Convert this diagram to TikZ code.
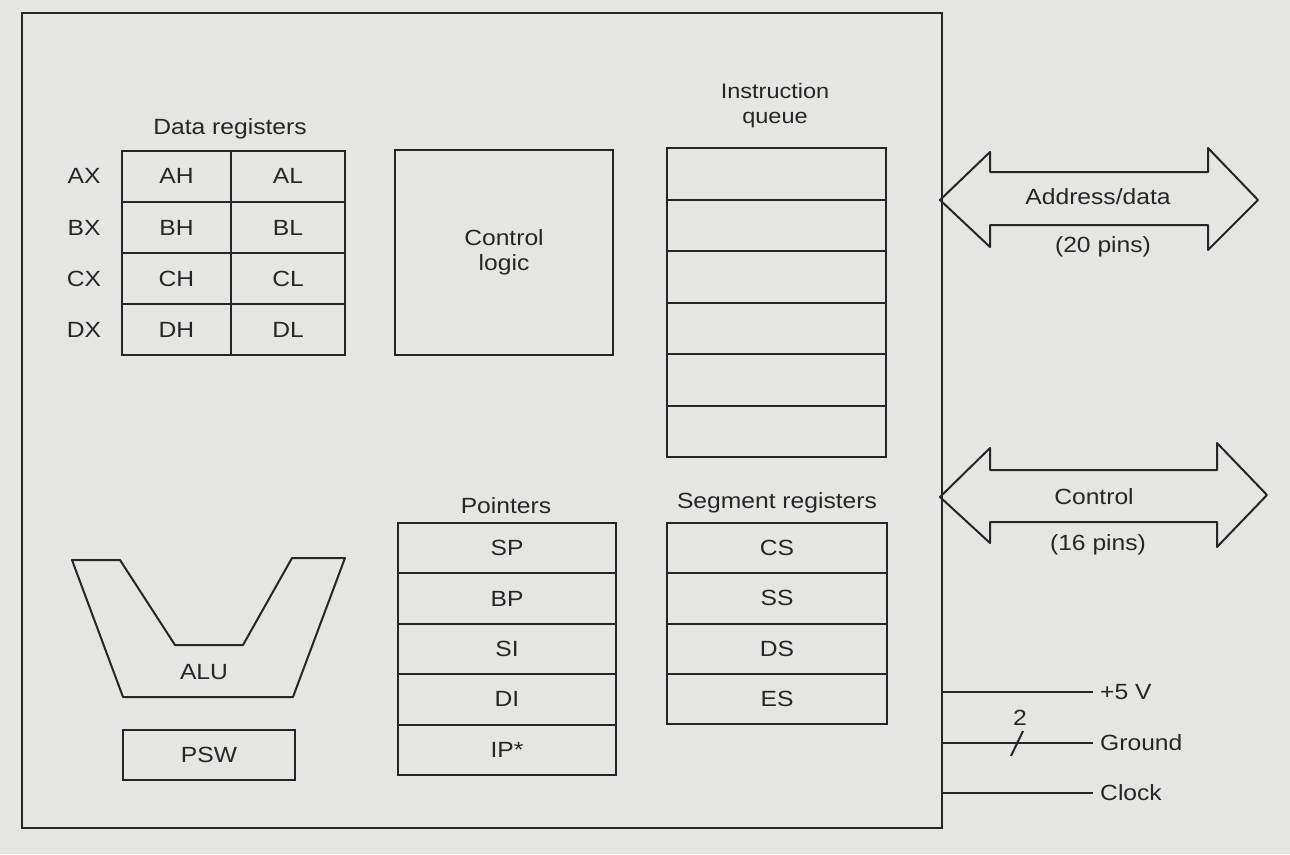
\documentclass[tikz,border=0pt]{standalone}
\usepackage{fontspec}
\setmainfont[FakeStretch=1.12]{Liberation Sans}
\definecolor{paper}{rgb}{0.90,0.90,0.89}
\definecolor{ink}{rgb}{0.15,0.15,0.15}
\begin{document}
\begin{tikzpicture}[x=1pt,y=-1pt,
  every node/.style={text=ink,font=\fontsize{22}{25}\selectfont},
  line/.style={draw=ink,line width=2pt},
  cell/.style={line,inner sep=0pt,anchor=center},
  lbl/.style={inner sep=0pt,anchor=center},
  pin/.style={inner xsep=7pt,inner ysep=0pt,anchor=west}]
\fill[paper] (0,0) rectangle (1290,854);
\useasboundingbox (0,0) rectangle (1290,854);
% outer chip
\draw[line] (22,13) rectangle (942,828);
\coordinate (chipE5) at (942,692);
\coordinate (chipEG) at (942,743);
\coordinate (chipEC) at (942,793);
% data registers
\node[lbl] (drt) at (230,129) {Data registers};
\foreach \r/\y/\n in {A/176/1,B/227.5/2,C/278.5/3,D/329.5/4}{
  \node[cell,minimum width=109pt,minimum height=51pt] (\r H) at (176.5,\y) {\r H};
  \node[cell,minimum width=114pt,minimum height=51pt] (\r L) at (288,\y) {\r L};
  \node[lbl] (\r X) at (84,\y) {\r X};
}
% control logic
\node[cell,minimum width=218pt,minimum height=205pt,align=center] (ctl) at (504,252.5) {Control\\logic};
% instruction queue
\node[lbl,align=center,font=\fontsize{21}{25}\selectfont] (iqt) at (775,106) {Instruction\\queue};
\foreach \i in {0,...,5}{
  \node[cell,minimum width=219pt,minimum height=51.5pt] (q\i) at (776.5,{148+25.75+51.5*\i}) {};
}
% pointers
\node[lbl] (ptt) at (506,506) {Pointers};
\foreach \t [count=\i from 0] in {SP,BP,SI,DI,IP*}{
  \node[cell,minimum width=218pt,minimum height=50.4pt] (p\i) at (507,{523+25.2+50.4*\i}) {\t};
}
% segment registers
\node[lbl] (sgt) at (777,503) {Segment registers};
\foreach \t [count=\i from 0] in {CS,SS,DS,ES}{
  \node[cell,minimum width=220pt,minimum height=50.25pt] (s\i) at (777,{523+25.125+50.25*\i}) {\t};
}
% ALU
\draw[line,line join=round] (72,560) -- (120,560) -- (175,645) -- (243,645) -- (292,558) -- (345,558) -- (293,697) -- (123,697) -- cycle;
\node[lbl] (alu) at (204,672) {ALU};
\node[cell,minimum width=172pt,minimum height=50pt] (psw) at (209,755) {PSW};
% address/data arrow
\draw[line,line join=round] (940,200) -- (990,152) -- (990,172) -- (1208,172) -- (1208,148) -- (1258,200) -- (1208,250) -- (1208,225) -- (990,225) -- (990,247) -- cycle;
\node[lbl] (adt) at (1098,197) {Address/data};
\node[lbl] (adp) at (1103,247) {(20 pins)};
% control arrow
\draw[line,line join=round] (940,497) -- (990,448) -- (990,470) -- (1217,470) -- (1217,443) -- (1267,495) -- (1217,547) -- (1217,522) -- (990,522) -- (990,543) -- cycle;
\node[lbl] (cta) at (1094,497) {Control};
\node[lbl] (ctp) at (1098,545) {(16 pins)};
% pins
\node[pin] (v5) at (1093,692) {+5 V};
\node[pin] (gnd) at (1093,743) {Ground};
\node[pin] (clk) at (1093,793) {Clock};
\draw[line] (chipE5) -- (v5.west);
\draw[line] (chipEG) -- (gnd.west);
\draw[line] (chipEC) -- (clk.west);
\coordinate (sl1) at (1011,756);
\coordinate (sl2) at (1023,731);
\draw[line] (sl1) -- (sl2);
\node[lbl] (two) at (1020,718) {2};
\end{tikzpicture}
\end{document}
